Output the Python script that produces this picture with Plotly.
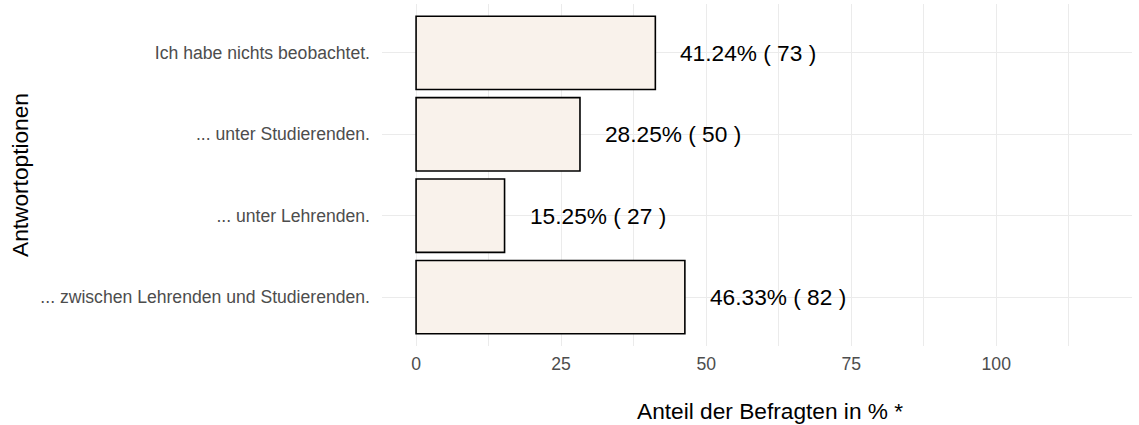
import plotly.graph_objects as go

# data (bottom to top as drawn)
categories = [
    "... zwischen Lehrenden und Studierenden.",
    "... unter Lehrenden.",
    "... unter Studierenden.",
    "Ich habe nichts beobachtet.",
]
percent = [46.33, 15.25, 28.25, 41.24]
counts = [82, 27, 50, 73]
x_ticks = [0, 25, 50, 75, 100]
x_title = "Anteil der Befragten in % *"
y_title = "Antwortoptionen"

FILL = "#F9F2EB"
GRID = "#EBEBEB"
TITLE_FONT = dict(size=22.7, color="black", family="Liberation Sans")

fig = go.Figure(go.Bar(
    x=percent,
    y=categories,
    orientation="h",
    width=0.9,
    marker=dict(color=FILL, line=dict(color="black", width=1.6)),
    hoverinfo="skip",
))

for cat, p, n in zip(categories, percent, counts):
    fig.add_annotation(
        x=p, y=cat,
        text=f"{p:.2f}% ( {n} )",
        xanchor="left", yanchor="middle",
        xshift=23, showarrow=False,
        font=TITLE_FONT,
    )

# axis titles as annotations so they can be placed like ggplot does
fig.add_annotation(
    text=x_title, xref="paper", yref="paper", x=0.5, y=0,
    xanchor="center", yanchor="middle", xshift=13, yshift=-65,
    showarrow=False, font=TITLE_FONT,
)
fig.add_annotation(
    text=y_title, xref="paper", yref="paper", x=0, y=0.5,
    xanchor="center", yanchor="middle", xshift=-362, textangle=-90,
    showarrow=False, font=TITLE_FONT,
)

fig.update_layout(
    width=1139, height=425,
    paper_bgcolor="white",
    plot_bgcolor="white",
    font=dict(family="Liberation Sans", color="#4D4D4D"),
    margin=dict(l=382, r=7, t=4, b=79, autoexpand=False),
    showlegend=False,
    xaxis=dict(
        automargin=False,
        range=[-5.875, 123.4],
        tickvals=x_ticks,
        ticktext=[str(t) for t in x_ticks],
        tickfont=dict(size=17.6, color="#4D4D4D"),
        showgrid=True, gridcolor=GRID, gridwidth=1.3,
        minor=dict(tickvals=[12.5, 37.5, 62.5, 87.5, 112.5], showgrid=True,
                   gridcolor=GRID, gridwidth=0.7),
        zeroline=False, showline=False, ticks="",
        ticklabelstandoff=5,
    ),
    yaxis=dict(
        automargin=False,
        type="category",
        categoryorder="array", categoryarray=categories,
        range=[-0.6, 3.6],
        tickfont=dict(size=17.6, color="#4D4D4D"),
        showgrid=True, gridcolor=GRID, gridwidth=1.3,
        zeroline=False, showline=False, ticks="",
        ticklabelstandoff=11,
    ),
)

fig.write_html("out.html", config={"displayModeBar": False},
               post_script="document.body.style.margin='0px';")
